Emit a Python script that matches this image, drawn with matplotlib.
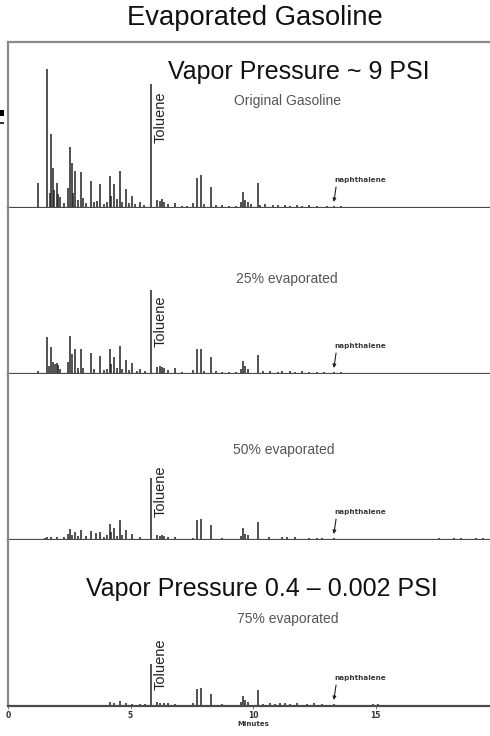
import matplotlib
matplotlib.use("Agg")
import matplotlib.pyplot as plt
from matplotlib.patches import Rectangle

# ---------------- data ----------------
panel_labels = ["Original Gasoline", "25% evaporated", "50% evaporated", "75% evaporated"]

# retention time (min) / relative abundance for each chromatogram
t_orig = [1.24, 1.60, 1.70, 1.76, 1.82, 1.88, 1.99, 2.05, 2.12, 2.30,
          2.46, 2.53, 2.60, 2.66, 2.73, 2.85, 2.99, 3.06, 3.20, 3.38,
          3.50, 3.62, 3.76, 3.90, 4.03, 4.16, 4.22, 4.33, 4.45, 4.57,
          4.65, 4.82, 4.95, 5.07, 5.20, 5.40, 5.55, 5.82, 6.08, 6.20,
          6.28, 6.36, 6.55, 6.83, 7.10, 7.30, 7.55, 7.70, 7.87, 8.00,
          8.27, 8.50, 8.75, 9.00, 9.30, 9.50, 9.60, 9.68, 9.80, 9.90,
          10.20, 10.30, 10.50, 10.80, 11.00, 11.30, 11.50, 11.80, 12.00, 12.30,
          12.60, 13.00, 13.30, 13.60, 15.10]
h_orig = [25, 139, 15, 74, 40, 18, 25, 14, 11, 5,
          20, 61, 45, 15, 37, 8, 36, 10, 5, 27,
          6, 7, 24, 4, 6, 32, 12, 24, 9, 37,
          6, 19, 5, 12, 4, 6, 3, 124, 8, 7,
          9, 6, 4, 5, 2, 2, 5, 30, 33, 4,
          21, 3, 3, 2, 2, 6, 16, 8, 6, 4,
          25, 3, 4, 3, 3, 3, 2, 3, 2, 3,
          2, 2, 2, 2, 1]

t_25 = [1.24, 1.60, 1.66, 1.76, 1.82, 1.90, 1.99, 2.05, 2.12,
        2.46, 2.53, 2.60, 2.73, 2.85, 2.99, 3.06,
        3.38, 3.50, 3.76, 3.90, 4.05,
        4.16, 4.22, 4.33, 4.45, 4.57, 4.65, 4.82, 4.95, 5.07,
        5.25, 5.40, 5.60, 5.82,
        6.08, 6.20, 6.28, 6.36, 6.55, 6.83,
        7.10, 7.55, 7.70, 7.87, 8.00, 8.27,
        8.50, 8.75, 9.00, 9.30, 9.50, 9.60, 9.68, 9.80,
        10.20, 10.40, 10.70, 11.00, 11.20, 11.50, 11.70,
        12.00, 12.30, 12.60, 12.90, 13.30, 13.60,
        14.00, 14.40, 14.80, 15.20, 16.70]
h_25 = [3, 37, 8, 27, 12, 10, 11, 9, 5,
        12, 38, 20, 25, 6, 25, 6,
        21, 5, 18, 4, 5,
        25, 10, 17, 6, 28, 5, 14, 4, 11,
        3, 5, 3, 84,
        7, 8, 7, 6, 4, 6,
        2, 4, 25, 25, 3, 17,
        3, 2, 2, 2, 5, 13, 8, 5,
        19, 3, 3, 2, 3, 3, 2,
        3, 2, 2, 2, 2, 2,
        1, 1, 1, 1, 1]

t_50 = [1.50, 1.60, 1.76, 1.99, 2.30, 2.46, 2.53, 2.60, 2.73, 2.85,
        2.99, 3.20, 3.38, 3.60, 3.76, 3.90, 4.05, 4.16, 4.22, 4.33,
        4.45, 4.57, 4.65, 4.82, 5.07, 5.40, 5.82, 6.08, 6.20, 6.28,
        6.36, 6.55, 6.83, 7.55, 7.70, 7.87, 8.27, 8.75, 9.50, 9.60,
        9.68, 9.80, 10.20, 10.65, 11.20, 11.40, 11.70, 12.30, 12.60, 12.80,
        13.30, 14.90, 17.60, 17.90, 18.20, 18.50, 18.80, 19.10, 19.40]
h_50 = [2, 3, 3, 3, 3, 6, 11, 5, 8, 4,
        10, 4, 9, 7, 8, 3, 5, 16, 8, 12,
        4, 20, 5, 10, 6, 3, 62, 5, 4, 5,
        4, 3, 3, 2, 20, 21, 15, 2, 4, 12,
        6, 5, 18, 3, 3, 3, 3, 2, 2, 2,
        2, 1, 2, 1, 2, 2, 1, 2, 2]

t_75 = [4.16, 4.33, 4.57, 4.82, 5.07, 5.40, 5.60, 5.82, 6.08, 6.20,
        6.36, 6.55, 6.83, 7.30, 7.55, 7.70, 7.87, 8.27, 8.75, 9.50,
        9.60, 9.68, 9.80, 10.20, 10.40, 10.70, 10.90, 11.10, 11.30, 11.50,
        11.80, 12.20, 12.50, 12.80, 13.30, 14.90, 15.10]
h_75 = [4, 3, 5, 3, 2, 2, 2, 42, 4, 3,
        3, 3, 2, 1, 3, 17, 18, 12, 2, 4,
        10, 6, 4, 16, 2, 3, 2, 3, 3, 2,
        3, 2, 3, 2, 2, 2, 2]

times = [t_orig, t_25, t_50, t_75]
heights = [h_orig, h_25, h_50, h_75]

toluene_label_y = [91, 53, 49, 42]
naph_time = 13.30
x_ticks = [0, 5, 10, 15]
x_ticklabels = ["0", "5", "10", "15"]

# ---------------- figure ----------------
W, H = 490, 736
fig = plt.figure(figsize=(W / 100, H / 100), dpi=100)
fig.patch.set_facecolor("white")

SANS = ["Liberation Sans", "DejaVu Sans"]
left_px, px_per_min = 8, 24.5
panel_h = 166
xmax = 20.0
ax_w = (xmax * px_per_min) / W

axes = []
for i in range(4):
    base_px = 208 + panel_h * i
    ax = fig.add_axes([left_px / W, 1 - base_px / H, ax_w, panel_h / H])
    ax.set_xlim(0, xmax)
    ax.set_ylim(0, panel_h)
    ax.set_facecolor("white")
    ax.vlines(times[i], 0, heights[i], colors="#222222", linewidth=1.1)
    ax.spines["right"].set_visible(False)
    ax.spines["top"].set_visible(i == 0)
    ax.spines["top"].set_color("#8a8a8a")
    ax.spines["top"].set_linewidth(1.6)
    ax.spines["left"].set_color("#8a8a8a")
    ax.spines["left"].set_linewidth(1.6)
    ax.spines["bottom"].set_color("#4a4a4a")
    ax.spines["bottom"].set_linewidth(1.6)
    ax.set_yticks([])
    if i < 3:
        ax.set_xticks([])
    else:
        ax.set_xticks(x_ticks)
        ax.set_xticklabels(x_ticklabels, fontsize=5.5, weight="bold",
                           family="DejaVu Sans", color="#333333")
        ax.tick_params(axis="x", length=2, width=0.6, color="#666666", pad=1.5)
        ax.set_xlabel("Minutes", fontsize=5, weight="bold", family="DejaVu Sans",
                      color="#333333", labelpad=0.5)

    # Toluene label
    ax.text(6.24, toluene_label_y[i], "Toluene", rotation=90, ha="center",
            va="center", fontsize=10.5, family=SANS, color="#222222")
    # naphthalene label + arrow
    ax.text(14.37, 28, "naphthalene", ha="center", va="center", fontsize=5.2,
            family="DejaVu Sans", weight="bold", color="#3a3a3a")
    ax.annotate("", xy=(naph_time, 6), xytext=(naph_time + 0.09, 21),
                arrowprops=dict(arrowstyle="-|>", color="#222222", lw=0.8,
                                mutation_scale=5, shrinkA=0, shrinkB=0))
    axes.append(ax)

# panel captions
axes[0].text(11.88, 136, "Vapor Pressure ~ 9 PSI", ha="center", va="center",
             fontsize=18, family=SANS, color="#111111")
axes[0].text(11.39, 107, panel_labels[0], ha="center", va="center",
             fontsize=10, family=SANS, color="#555555")
axes[1].text(11.39, 95, panel_labels[1], ha="center", va="center",
             fontsize=10, family=SANS, color="#555555")
axes[2].text(11.27, 90, panel_labels[2], ha="center", va="center",
             fontsize=10, family=SANS, color="#555555")
axes[3].text(10.37, 117, "Vapor Pressure 0.4 \u2013 0.002 PSI", ha="center",
             va="center", fontsize=18, family=SANS, color="#111111")
axes[3].text(11.43, 87, panel_labels[3], ha="center", va="center",
             fontsize=10, family=SANS, color="#555555")

fig.text(255 / W, 1 - 18 / H, "Evaporated Gasoline", ha="center", va="center",
         fontsize=19.7, family=SANS, color="#111111")

# cropped-off marks at the left edge of the original slide
fig.add_artist(Rectangle((0, 1 - 116 / H), 4 / W, 6 / H, transform=fig.transFigure,
                         facecolor="black", edgecolor="none"))
fig.add_artist(Rectangle((0, 1 - 124 / H), 4 / W, 2 / H, transform=fig.transFigure,
                         facecolor="#333333", edgecolor="none"))

fig.savefig("out.png", dpi=100, facecolor="white")
